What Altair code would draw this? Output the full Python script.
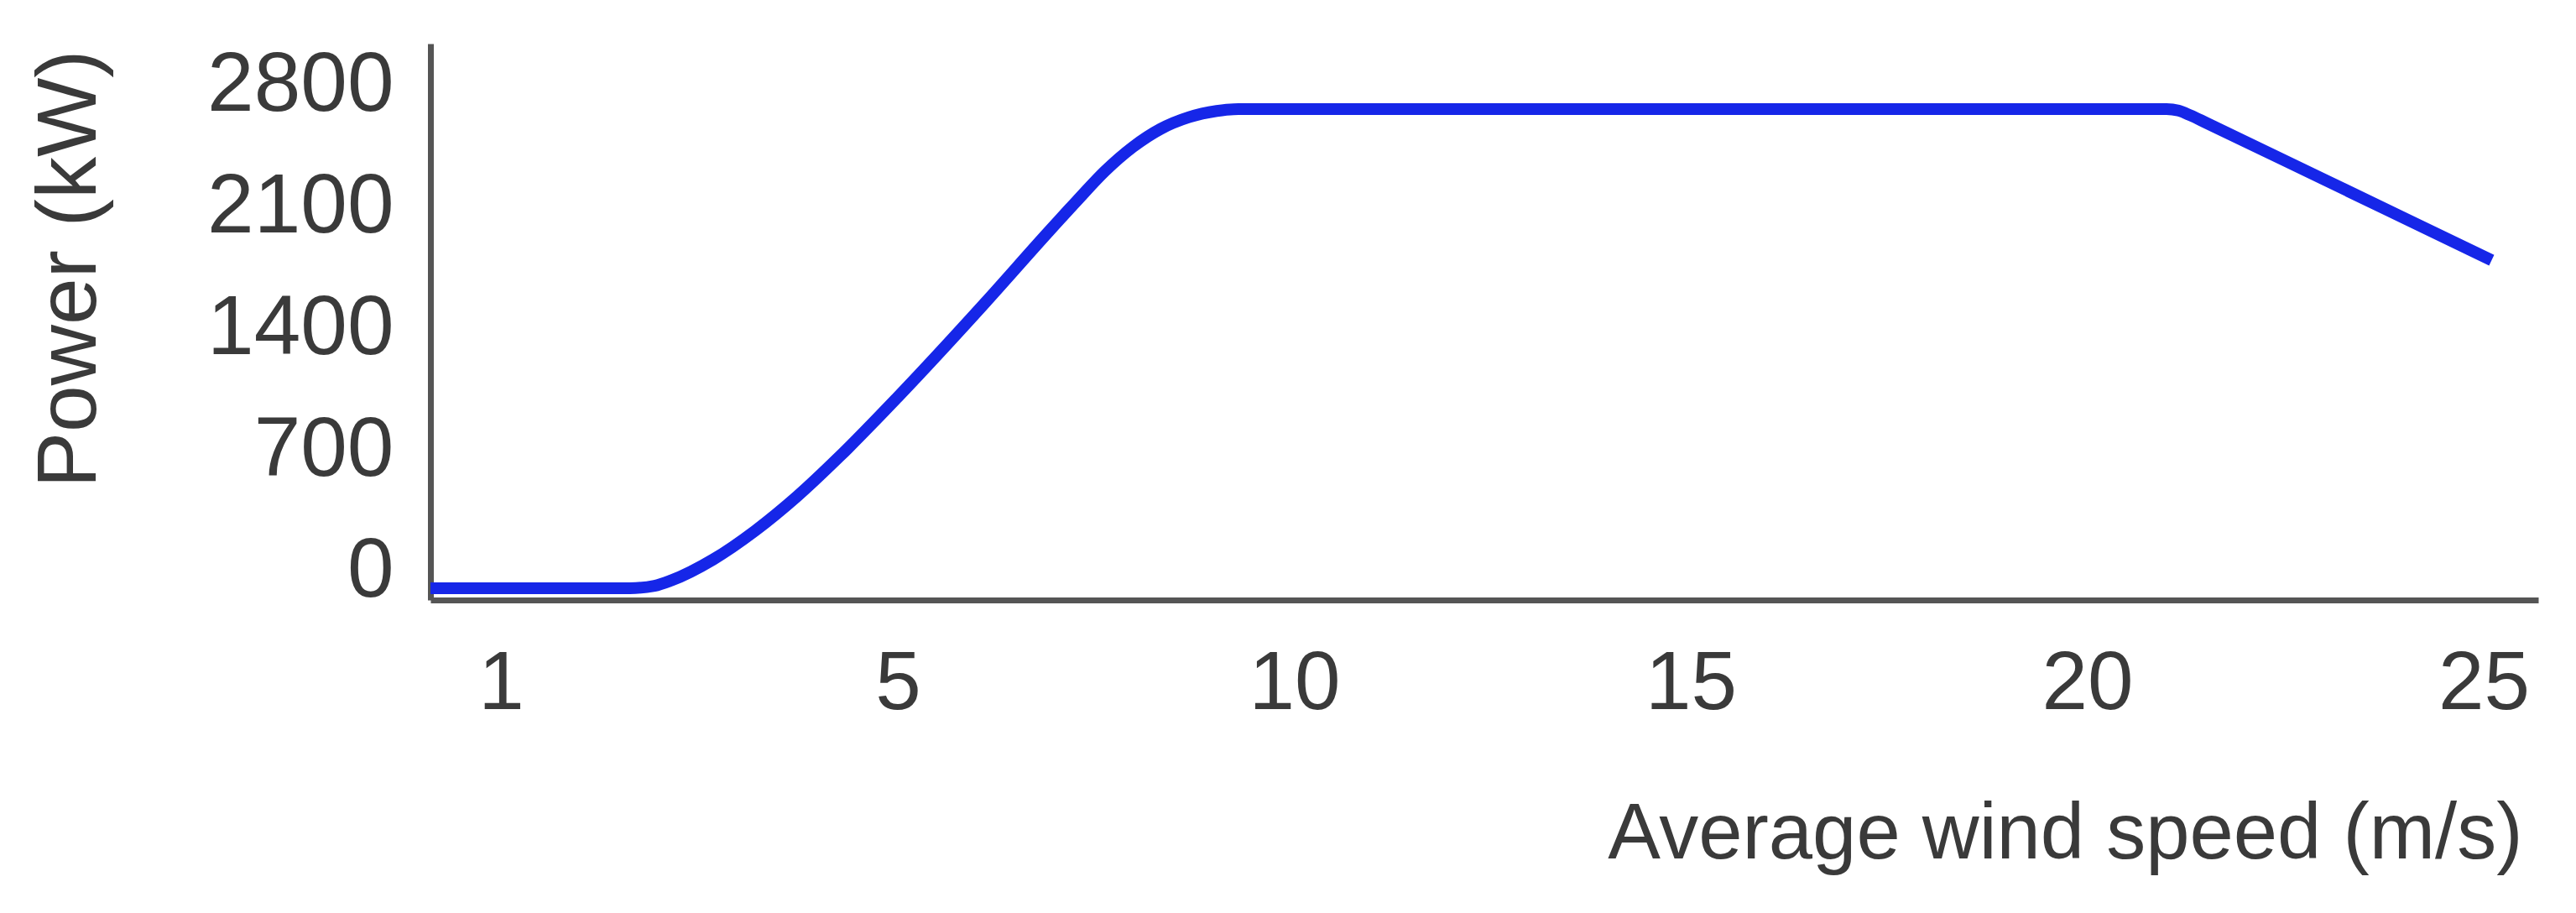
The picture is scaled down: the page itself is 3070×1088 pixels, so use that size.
import altair as alt
import pandas as pd

# Wind speed (m/s) and power (kW)
wind_speed = [0.29, 1.0, 2.0, 2.3, 2.548, 2.717, 3.14, 3.562, 3.985, 4.408, 5.0,
              6.111, 6.905, 7.254, 7.614, 7.963, 8.312, 8.672, 9.021, 9.233,
              9.6, 12.0, 15.0, 18.0, 21.0, 21.15, 21.3, 21.5, 23.0, 25.1]
power_kw = [0, 0, 0, 0, 14, 45, 166, 331, 529, 756, 1102,
            1650, 2056, 2230, 2404, 2542, 2646, 2714, 2750, 2760,
            2761, 2761, 2761, 2761, 2761, 2752, 2725, 2682, 2352, 1890]

x_ticks = [1, 5, 10, 15, 20, 25]
y_ticks = [0, 700, 1400, 2100, 2800]

df = pd.DataFrame({"ws": wind_speed, "p": power_kw})

FONT = "Liberation Sans, Arial, sans-serif"
TXT = "#3a3a3a"
AX = "#555555"

chart = alt.Chart(df).mark_line(
    color="#1626e8", strokeWidth=14, interpolate="monotone", strokeCap="butt"
).encode(
    x=alt.X("ws:Q",
            scale=alt.Scale(domain=[0.2896, 1, 5, 25, 25.688],
                            range=[0, 84, 557, 2447, 2512],
                            zero=False, nice=False),
            axis=alt.Axis(values=x_ticks, format="d", ticks=False, tickSize=0,
                          grid=False, domainColor=AX, domainWidth=7,
                          labelFont=FONT, labelFontSize=98, labelColor=TXT,
                          labelPadding=52, labelBaseline="top",
                          labelFlush=False, labelLimit=0, labelOverlap=False,
                          title="Average wind speed (m/s)", titleFont=FONT,
                          titleFontSize=94, titleFontWeight="normal",
                          titleColor=TXT, titleX=2493, titleY=307,
                          titleAlign="right", titleBaseline="alphabetic")),
    y=alt.Y("p:Q",
            scale=alt.Scale(domain=[-68, 3138], zero=False, nice=False),
            axis=alt.Axis(values=y_ticks, format="d", ticks=False, tickSize=0,
                          grid=False, domainColor=AX, domainWidth=7,
                          labelFont=FONT, labelFontSize=100, labelColor=TXT,
                          labelPadding=44, labelOffset=-20, labelLimit=0,
                          labelOverlap=False, labelFlush=False,
                          title="Power (kW)", titleFont=FONT,
                          titleFontSize=100, titleFontWeight="normal",
                          titleColor=TXT, titleX=-400, titleY=268,
                          titleAngle=270, titleAlign="center",
                          titleBaseline="alphabetic")),
).properties(
    width=2512, height=663,
    background="white",
    autosize=alt.AutoSizeParams(type="none"),
    padding={"left": 505, "top": 44, "right": 30, "bottom": 340},
).configure_view(strokeWidth=0)

chart.save("out.html", embed_options={"renderer": "svg", "actions": False})
